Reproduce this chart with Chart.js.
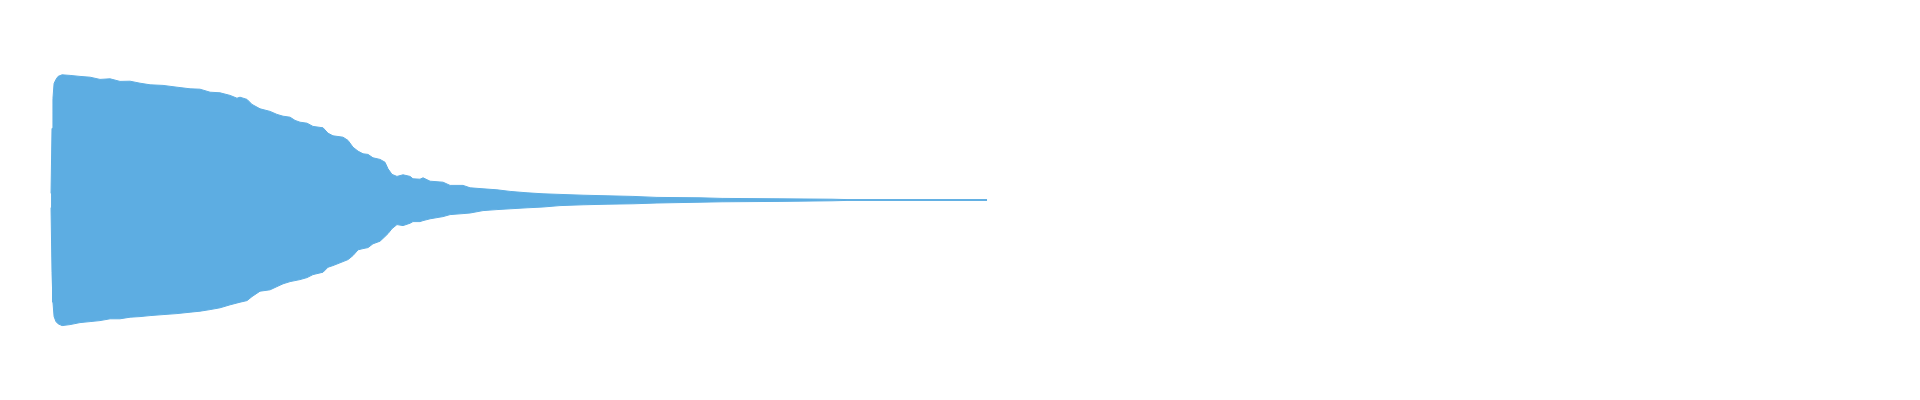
<!DOCTYPE html>
<html>
<head>
<meta charset="utf-8">
<title>Waveform</title>
<script src="https://cdn.jsdelivr.net/npm/chart.js@4.4.1/dist/chart.umd.min.js"></script>
<style>
    html, body { margin: 0; padding: 0; background: #ffffff; }
    #wrap { width: 1920px; height: 400px; position: relative; }
</style>
</head>
<body>
<div id="wrap"><canvas id="waveChart"></canvas></div>
<script>
// Envelope of the waveform (time in seconds)
const times = [
    0.319, 0.325, 0.331, 0.338, 0.350, 0.363, 0.388, 0.438, 0.500, 0.563,
    0.625, 0.688, 0.750, 0.813, 0.875, 0.938, 1.019, 1.106, 1.188, 1.250,
    1.313, 1.375, 1.438, 1.481, 1.500, 1.544, 1.575, 1.625, 1.688, 1.731,
    1.769, 1.813, 1.844, 1.875, 1.919, 1.956, 2.019, 2.050, 2.081, 2.144,
    2.175, 2.206, 2.238, 2.269, 2.300, 2.331, 2.375, 2.406, 2.425, 2.450,
    2.481, 2.519, 2.563, 2.581, 2.625, 2.644, 2.688, 2.769, 2.813, 2.894,
    2.938, 3.019, 3.106, 3.188, 3.294, 3.394, 3.500, 3.644, 3.794, 3.956,
    4.106, 4.375, 4.513, 4.869, 5.200, 5.300, 6.169
];

const peakMax = [
    0.033, 0.358, 0.508, 0.583, 0.603, 0.618, 0.626, 0.623, 0.618, 0.614,
    0.603, 0.606, 0.593, 0.594, 0.584, 0.576, 0.573, 0.564, 0.556, 0.554,
    0.539, 0.536, 0.523, 0.509, 0.514, 0.503, 0.478, 0.456, 0.443, 0.428,
    0.419, 0.414, 0.398, 0.389, 0.384, 0.368, 0.361, 0.334, 0.321, 0.314,
    0.298, 0.264, 0.244, 0.231, 0.228, 0.211, 0.203, 0.189, 0.156, 0.128,
    0.118, 0.126, 0.118, 0.106, 0.104, 0.111, 0.094, 0.089, 0.073, 0.073,
    0.061, 0.056, 0.051, 0.043, 0.036, 0.031, 0.028, 0.024, 0.021, 0.018,
    0.013, 0.011, 0.008, 0.006, 0.004, 0.002, 0.002
];

const peakMin = [
    -0.038, -0.361, -0.511, -0.583, -0.608, -0.619, -0.628, -0.623, -0.613, -0.608,
    -0.603, -0.594, -0.594, -0.586, -0.583, -0.578, -0.573, -0.568, -0.561, -0.556,
    -0.548, -0.539, -0.524, -0.515, -0.511, -0.503, -0.483, -0.456, -0.449, -0.433,
    -0.419, -0.408, -0.403, -0.398, -0.388, -0.373, -0.361, -0.336, -0.328, -0.308,
    -0.298, -0.278, -0.249, -0.243, -0.238, -0.219, -0.206, -0.183, -0.168, -0.143,
    -0.123, -0.128, -0.116, -0.108, -0.108, -0.103, -0.094, -0.083, -0.073, -0.068,
    -0.065, -0.053, -0.048, -0.044, -0.039, -0.035, -0.028, -0.024, -0.021, -0.019,
    -0.015, -0.011, -0.009, -0.007, -0.004, -0.002, -0.002
];

// Axis range (seconds, normalised amplitude)
const timeRange = [0, 12];
const ampRange = [-1, 1];

const waveColor = '#5DADE2';

const upper = times.map((t, i) => ({ x: t, y: peakMax[i] }));
const lower = times.map((t, i) => ({ x: t, y: peakMin[i] }));

const ctx = document.getElementById('waveChart').getContext('2d');

new Chart(ctx, {
    type: 'line',
    data: {
        datasets: [
            {
                label: 'max',
                data: upper,
                borderColor: waveColor,
                backgroundColor: waveColor,
                borderWidth: 1,
                pointRadius: 0,
                fill: '+1', // fill down to the min envelope
                tension: 0
            },
            {
                label: 'min',
                data: lower,
                borderColor: waveColor,
                backgroundColor: waveColor,
                borderWidth: 1,
                pointRadius: 0,
                fill: false,
                tension: 0
            }
        ]
    },
    options: {
        responsive: true,
        maintainAspectRatio: false,
        animation: false,
        devicePixelRatio: 1,
        layout: { padding: 0 },
        scales: {
            x: {
                type: 'linear',
                min: timeRange[0],
                max: timeRange[1],
                display: false
            },
            y: {
                min: ampRange[0],
                max: ampRange[1],
                display: false
            }
        },
        plugins: {
            legend: { display: false },
            tooltip: { enabled: false }
        }
    }
});
</script>
</body>
</html>
